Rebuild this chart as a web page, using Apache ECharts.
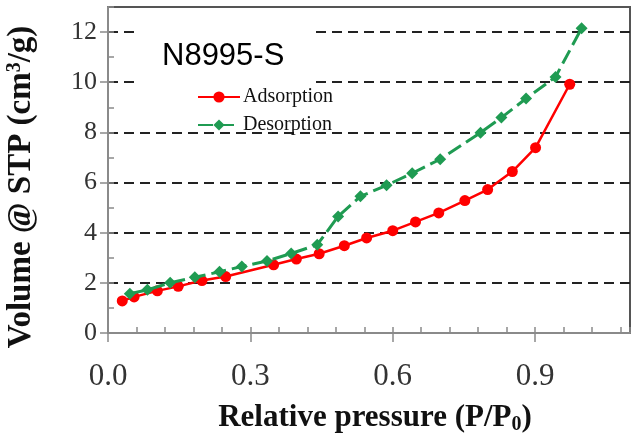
<!DOCTYPE html>
<html>
<head>
<meta charset="utf-8">
<script src="https://cdn.jsdelivr.net/npm/echarts@6/dist/echarts.min.js"></script>
<style>html,body{margin:0;padding:0;background:#fff;}#c{width:632px;height:438px;}</style>
</head>
<body>
<div id="c"></div>
<script>
var adsX = [0.030,0.055,0.104,0.148,0.198,0.248,0.349,0.397,0.445,0.498,0.545,0.600,0.648,0.697,0.752,0.800,0.852,0.901,0.973];
var adsY = [1.28,1.44,1.68,1.86,2.09,2.25,2.72,2.95,3.16,3.48,3.79,4.08,4.43,4.79,5.28,5.72,6.44,7.39,9.92];
var desX = [0.046,0.083,0.131,0.183,0.235,0.282,0.335,0.386,0.441,0.485,0.532,0.587,0.641,0.700,0.785,0.829,0.881,0.943,0.998];
var desY = [1.57,1.72,2.00,2.22,2.44,2.65,2.87,3.17,3.52,4.65,5.45,5.89,6.37,6.93,7.99,8.59,9.35,10.21,12.15];
var xTicks = [0, 0.3, 0.6, 0.9];
var yTicks = [0, 2, 4, 6, 8, 10, 12];
var seriesNames = ['Adsorption', 'Desorption'];
var chartTitle = 'N8995-S';

function pairs(xs, ys) { return xs.map(function (x, i) { return [x, ys[i]]; }); }

var chart = echarts.init(document.getElementById('c'), null, {renderer: 'canvas'});
var axisGray = '#8a8a8a';
chart.setOption({
  animation: false,
  backgroundColor: '#fff',
  title: {
    text: chartTitle, left: 162, top: 41, padding: 0,
    textStyle: {fontFamily: 'Liberation Sans', fontSize: 31, fontWeight: 'normal', color: '#000'}
  },
  legend: {
    orient: 'vertical', left: 197, top: 87, padding: 0,
    itemWidth: 42, itemHeight: 14, itemGap: 8,
    textStyle: {fontFamily: 'Liberation Serif', fontSize: 20, color: '#111', padding: [0,0,0,-2]},
    data: seriesNames
  },
  graphic: [{
    type: 'rect', z: 1, silent: true,
    shape: {x: 140, y: 18, width: 172, height: 92},
    style: {fill: '#fff'}
  }],
  grid: {left: 108, top: 7, right: 2, bottom: 105, outerBoundsMode: 'none', containLabel: false,
    show: true, borderColor: '#555', borderWidth: 2, backgroundColor: 'transparent'},
  xAxis: [{
    type: 'value', min: 0, max: 1.1, interval: 0.3,
    axisLine: {onZero: false, lineStyle: {color: axisGray, width: 2}},
    axisTick: {inside: false, length: 9, lineStyle: {color: axisGray, width: 1.5}, customValues: xTicks},
    axisLabel: {customValues: xTicks, formatter: function (v) { return v.toFixed(1); }, margin: 28,
      fontFamily: 'Liberation Serif', fontSize: 31, color: '#333'},
    splitLine: {show: false},
    name: 'Relative pressure (P/P{sub|0})', nameLocation: 'middle', nameGap: 68,
    nameTextStyle: {fontFamily: 'Liberation Serif', fontWeight: 'bold', fontSize: 31, color: '#111', padding: [0,0,0,12],
      rich: {sub: {fontFamily: 'Liberation Serif', fontWeight: 'bold', fontSize: 20, color: '#111', verticalAlign: 'bottom', padding: [14,0,0,0]}}}
  }, {
    type: 'value', min: 0, max: 1.1, interval: 0.06, position: 'bottom',
    axisLine: {show: false, onZero: false},
    axisTick: {inside: true, length: 6, lineStyle: {color: axisGray, width: 1.5}},
    axisLabel: {show: false}, splitLine: {show: false}
  }],
  yAxis: [{
    type: 'value', min: 0, max: 13, interval: 2,
    axisLine: {onZero: false, lineStyle: {color: axisGray, width: 2}},
    axisTick: {inside: false, length: 8, lineStyle: {color: axisGray, width: 1.5}, customValues: yTicks},
    axisLabel: {customValues: yTicks, margin: 11, fontFamily: 'Liberation Serif', fontSize: 26, color: '#333'},
    splitLine: {show: true, showMinLine: false, showMaxLine: true, lineStyle: {color: '#222', width: 2, type: [10, 6]}},
    name: 'Volume @ STP (cm{sup|3}/g)', nameLocation: 'middle', nameGap: 70,
    nameTextStyle: {fontFamily: 'Liberation Serif', fontWeight: 'bold', fontSize: 33, color: '#111', padding: [0, 34, 0, 0],
      rich: {sup: {fontFamily: 'Liberation Serif', fontWeight: 'bold', fontSize: 20, color: '#111', verticalAlign: 'top', padding: [0,0,12,0]}}}
  }, {
    type: 'value', min: 0, max: 13, interval: 1, position: 'left',
    axisLine: {show: false, onZero: false},
    axisTick: {inside: true, length: 6, lineStyle: {color: axisGray, width: 1.5}},
    axisLabel: {show: false}, splitLine: {show: false}
  }],
  series: [{
    name: seriesNames[0], type: 'line', xAxisIndex: 0, yAxisIndex: 0,
    data: pairs(adsX, adsY),
    symbol: 'circle', symbolSize: 11,
    lineStyle: {color: '#ff0000', width: 2.5},
    itemStyle: {color: '#ff0000'},
    z: 3
  }, {
    name: seriesNames[1], type: 'line', xAxisIndex: 0, yAxisIndex: 0,
    data: pairs(desX, desY),
    symbol: 'diamond', symbolSize: 12,
    lineStyle: {color: '#1f9b52', width: 3, type: [15, 6]},
    itemStyle: {color: '#1f9b52'},
    z: 4
  }]
});
</script>
</body>
</html>
